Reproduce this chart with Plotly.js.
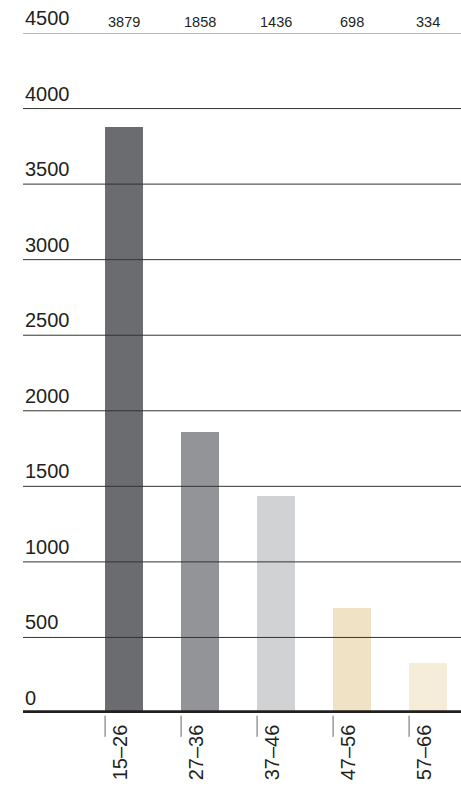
<!DOCTYPE html>
<html>
<head>
<meta charset="utf-8">
<script src="https://cdn.plot.ly/plotly-3.0.1.min.js"></script>
<style>
  html, body { margin: 0; padding: 0; background: #fff; }
  #chart { width: 461px; height: 790px; }
</style>
</head>
<body>
<div id="chart"></div>
<script>
const categories = ["15–26", "27–36", "37–46", "47–56", "57–66"];
const values = [3879, 1858, 1436, 698, 334];
const barColors = ["#6b6c70", "#939498", "#d1d2d4", "#f0e2c4", "#f5ecd9"];
const yTickValues = [0, 500, 1000, 1500, 2000, 2500, 3000, 3500, 4000, 4500];
const yTickLabels = ["0", "500", "1000", "1500", "2000", "2500", "3000", "3500", "4000", "4500"];

const font = "Liberation Sans, Arial, Helvetica, sans-serif";
const xIdx = categories.map((c, i) => i);

const trace = {
  type: "bar",
  x: xIdx,
  y: values,
  width: 0.5,
  marker: { color: barColors, line: { width: 0 } },
  hoverinfo: "skip"
};

const shapes = [];
// gridlines drawn above bars
yTickValues.forEach(v => {
  if (v === 0) return;
  shapes.push({
    type: "line", xref: "paper", yref: "y", x0: 0, x1: 1, y0: v, y1: v,
    line: { color: v === 4500 ? "#777" : "#333", width: 1 }, layer: "above"
  });
});
// thick baseline
shapes.push({
  type: "line", xref: "paper", yref: "y", x0: 0, x1: 1, y0: 0, y1: 0,
  line: { color: "#231f20", width: 5.5 }, layer: "above"
});
// tick marks at bar left edges
xIdx.forEach(i => {
  shapes.push({
    type: "line", xref: "x", yref: "paper", x0: i - 0.25, x1: i - 0.25, y0: -0.004, y1: -0.035,
    line: { color: "#666", width: 1 }, layer: "above"
  });
});

const annotations = [];
// y labels above gridlines
yTickValues.forEach((v, k) => {
  annotations.push({
    xref: "paper", yref: "y", x: 0, y: v, xanchor: "left", yanchor: "bottom",
    text: yTickLabels[k], showarrow: false, yshift: 2,
    font: { family: font, size: 20, color: "#231f20" }
  });
});
// value labels along top
values.forEach((v, i) => {
  annotations.push({
    xref: "x", yref: "paper", x: i, y: 1, xanchor: "center", yanchor: "bottom",
    text: String(v), showarrow: false, yshift: 1,
    font: { family: font, size: 14.5, color: "#231f20" }
  });
});
// rotated category labels
categories.forEach((c, i) => {
  annotations.push({
    xref: "x", yref: "paper", x: i - 0.05, y: 0, xanchor: "center", yanchor: "top",
    text: c, showarrow: false, textangle: -90, yshift: -9,
    font: { family: font, size: 20, color: "#231f20" }
  });
});

const layout = {
  width: 461, height: 790,
  margin: { l: 23, r: 0, t: 33, b: 77, pad: 0 },
  paper_bgcolor: "#fff", plot_bgcolor: "#fff",
  showlegend: false,
  bargap: 0,
  xaxis: {
    type: "linear", range: [-1.33, 4.433], showgrid: false, zeroline: false,
    showticklabels: false, ticks: "", fixedrange: true
  },
  yaxis: {
    range: [0, 4500], showgrid: false, zeroline: false, showticklabels: false,
    ticks: "", fixedrange: true
  },
  shapes: shapes,
  annotations: annotations
};

Plotly.newPlot("chart", [trace], layout, { displayModeBar: false, staticPlot: true });
</script>
</body>
</html>
